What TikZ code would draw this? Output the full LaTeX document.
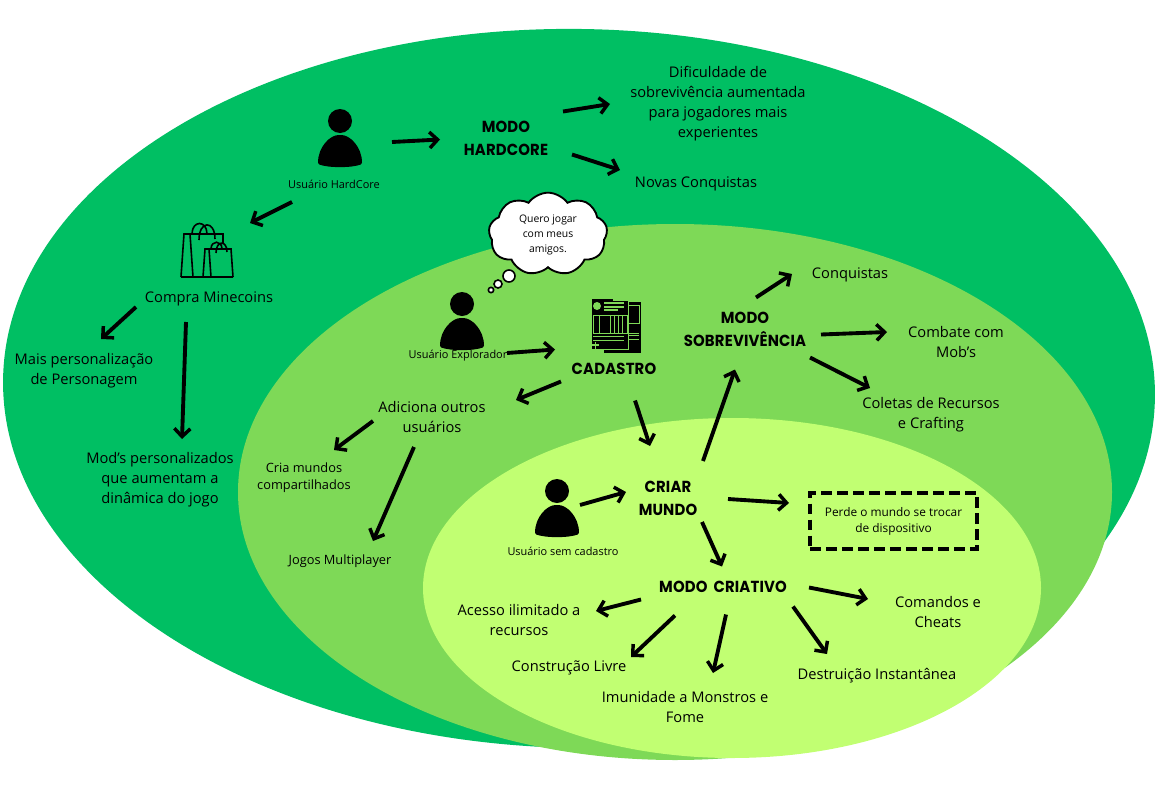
\documentclass[tikz,border=0pt]{standalone}
\usepackage{fontspec}
\setmainfont{Open Sans}
\newfontfamily\titulofont[FakeStretch=.93,LetterSpace=1]{Poppins}
\usetikzlibrary{arrows.meta,shapes.symbols}
\definecolor{verdeA}{HTML}{00BF63}
\definecolor{verdeB}{HTML}{7ED957}
\definecolor{verdeC}{HTML}{C1FF72}
\tikzset{
  texto/.style={align=center, inner sep=1pt, font=\fontsize{11}{15}\selectfont},
  medio/.style={align=center, inner sep=1pt, font=\fontsize{9.6}{13}\selectfont},
  rotulo/.style={align=center, inner sep=1pt, font=\fontsize{8.2}{11}\selectfont},
  titulo/.style={align=center, inner sep=1pt, font=\titulofont\bfseries\fontsize{12}{17.3}\selectfont},
  seta/.style={line width=2.9pt, -{Straight Barb[length=6pt,width=12pt,line width=2.6pt]}},
  bolha/.style={fill=white, draw=black, line width=1.2pt, circle, inner sep=0pt},
  usuario/.pic={
    \fill (0,0) circle (12);
    \fill[rounded corners=1pt] (-22,43) .. controls (-22,26) and (-10,14) .. (0,14)
      .. controls (10,14) and (22,26) .. (22,43) .. controls (12,47) and (-12,47) .. cycle;
  },
}
\begin{document}
\begin{tikzpicture}[x=.75pt, y=-.75pt]
\useasboundingbox (0,0) rectangle (1167,785);
\fill[verdeA] (579,388.5) ellipse [x radius=576, y radius=359.5, rotate=-1];
\fill[verdeB] (675,492) ellipse (437 and 268);
\fill[verdeC] (732,588) ellipse (309 and 170);

% usuarios
\pic at (340,121) {usuario};
\pic at (462,304) {usuario};
\pic at (557,491) {usuario};
\coordinate (uhard) at (340,145);
\coordinate (uexpl) at (462,328);
\coordinate (usem) at (557,515);
\node[rotulo] (lhard) at (334,184) {Usuário HardCore};
\node[rotulo] (lexpl) at (458,356) {Usuário Explorador};
\node[rotulo] (lsem) at (563,551) {Usuário sem cadastro};

% sacolas
\coordinate (sacola) at (207,250);
\draw[line width=1.2pt] (181,277) -- (184,234) -- (223,234) -- (223,243)
  (190,234) -- (193,277) (181,277) -- (233,277) (203,277) -- (205,249) -- (231,249) -- (233,277)
  (209,249) -- (211,277);
\draw[line width=1.2pt] (192,234) .. controls (192,220) and (207,220) .. (207,234)
  (199,240) .. controls (199,220) and (215,220) .. (215,239)
  (211,249) .. controls (211,240) and (222,240) .. (222,249)
  (216,253) .. controls (216,240) and (227,240) .. (227,252);

% nuvem
\node[draw=black, fill=white, line width=1.4pt, cloud, cloud puffs=9, cloud puff arc=110, aspect=1.4,
  minimum width=89, minimum height=62, inner sep=0pt] (nuvem) at (548,234) {};
\node[rotulo, font=\fontsize{7.8}{11}\selectfont] (pensa) at (548,235) {Quero jogar\\com meus\\amigos.};
\node[bolha, minimum size=9] (b1) at (509,276) {};
\node[bolha, minimum size=6] (b2) at (498,284) {};
\node[bolha, minimum size=4] (b3) at (491,290) {};

% cadastro
\coordinate (ficha) at (616,326);
\fill (604,302) rectangle (641,353);
\fill (592,299) rectangle (628,349);
\draw[verdeB, line width=.7pt] (628,300) -- (628,349) -- (604,349)
  (629,305) -- (639,305) -- (639,323) -- (629,323)
  (593,315) rectangle (627,333) (599,315) -- (599,333) (610,315) -- (610,333) (614,315) -- (614,333) (618,315) -- (618,333) (622,315) -- (622,333)
  (593,336) -- (624,336) (593,340) -- (624,340)
  (629,333) -- (639,333) (629,335) -- (639,335) (629,339) -- (639,339);
\fill[verdeB] (597,306) circle (4);
\draw[verdeB, line width=.8pt] (613,300) -- (628,300) (604,303) -- (624,303) (604,307) -- (624,307) (604,310) -- (618,310);
\draw[verdeB, line width=1pt] (592,345) -- (599,345) (595.5,341.5) -- (595.5,348.5);

% textos
\node[titulo] (hardcore) at (506,138.5) {MODO\\HARDCORE};
\node[texto] (dific) at (718,104) {Dificuldade de\\sobrevivência aumentada\\para jogadores mais\\experientes};
\node[texto] (novas) at (696,184) {Novas Conquistas};
\node[texto] (compra) at (209,299) {Compra Minecoins};
\node[texto] (mais) at (84,371) {Mais personalização\\de Personagem};
\node[texto] (mods) at (160,480) {Mod’s personalizados\\que aumentam a\\dinâmica do jogo};
\node[titulo] (cadastro) at (614,368.5) {CADASTRO};
\node[texto] (adiciona) at (432,417) {Adiciona outros\\usuários};
\node[medio] (cria) at (304,478) {Cria mundos\\compartilhados};
\node[medio] (jogos) at (340,561) {Jogos Multiplayer};
\node[titulo] (sobrev) at (745,329.5) {MODO\\SOBREVIVÊNCIA};
\node[texto] (conq) at (850,275) {Conquistas};
\node[texto] (combate) at (956,342) {Combate com\\Mob’s};
\node[texto] (coletas) at (931,415) {Coletas de Recursos\\e Crafting};
\node[titulo] (mundo) at (668,498) {CRIAR\\MUNDO};
\node[rotulo, font=\fontsize{8.9}{12}\selectfont, draw=black, dashed, line width=2.6pt, minimum width=125, minimum height=42,
  dash pattern=on 8pt off 4pt] (perde) at (893.5,521) {Perde o mundo se trocar\\de dispositivo};
\node[titulo] (criativo) at (723,586.5) {MODO\hspace{2pt} CRIATIVO};
\node[texto] (comandos) at (938,612) {Comandos e\\Cheats};
\node[texto] (acesso) at (519,620) {Acesso ilimitado a\\recursos};
\node[texto] (constr) at (569,668) {Construção Livre};
\node[texto] (imun) at (685,707) {Imunidade a Monstros e\\Fome};
\node[texto] (destr) at (877,676) {Destruição Instantânea};

% setas
\draw[seta] ([shift={(52,-3)}]uhard) -- ([shift={(-66,1)}]hardcore.center);
\draw[seta] ([shift={(57,-27)}]hardcore.center) -- ([shift={(-108,0)}]dific.center);
\draw[seta] ([shift={(66,16)}]hardcore.center) -- ([shift={(-76,-14)}]novas.center);
\draw[seta] ([shift={(-48,57)}]uhard) -- ([shift={(43,-27)}]sacola);
\draw[seta] ([shift={(-73,8)}]compra.center) -- ([shift={(17,-32)}]mais.center);
\draw[seta] ([shift={(-23,23)}]compra.center) -- ([shift={(22,-41)}]mods.center);
\draw[seta] ([shift={(45,25)}]uexpl) -- ([shift={(-59,-19)}]cadastro.center);
\draw[seta] ([shift={(-53,13)}]cadastro.center) -- ([shift={(84,-17)}]adiciona.center);
\draw[seta] ([shift={(21,32)}]cadastro.center) -- ([shift={(-18,-52)}]mundo.center);
\draw[seta] ([shift={(-59,4)}]adiciona.center) -- ([shift={(30,-28)}]cria.center);
\draw[seta] ([shift={(-18,30)}]adiciona.center) -- ([shift={(33,-20)}]jogos.center);
\draw[seta] ([shift={(35,-37)}]mundo.center) -- ([shift={(-10,40)}]sobrev.center);
\draw[seta] ([shift={(11,-32)}]sobrev.center) -- ([shift={(-58,-1)}]conq.center);
\draw[seta] ([shift={(76,5)}]sobrev.center) -- ([shift={(-69,-10)}]combate.center);
\draw[seta] ([shift={(65,28)}]sobrev.center) -- ([shift={(-61,-27)}]coletas.center);
\draw[seta] ([shift={(23,-10)}]usem) -- ([shift={(-42,-6)}]mundo.center);
\draw[seta] ([shift={(60,1)}]mundo.center) -- ([shift={(-104.5,-18)}]perde.center);
\draw[seta] ([shift={(34,24)}]mundo.center) -- ([shift={(-1,-20)}]criativo.center);
\draw[seta] ([shift={(-82,13)}]criativo.center) -- ([shift={(77,-9)}]acesso.center);
\draw[seta] ([shift={(-48,29)}]criativo.center) -- ([shift={(62,-11)}]constr.center);
\draw[seta] ([shift={(3,28)}]criativo.center) -- ([shift={(28,-34)}]imun.center);
\draw[seta] ([shift={(70,20)}]criativo.center) -- ([shift={(-50,-22)}]destr.center);
\draw[seta] ([shift={(86,1)}]criativo.center) -- ([shift={(-70,-13)}]comandos.center);
\end{tikzpicture}
\end{document}
